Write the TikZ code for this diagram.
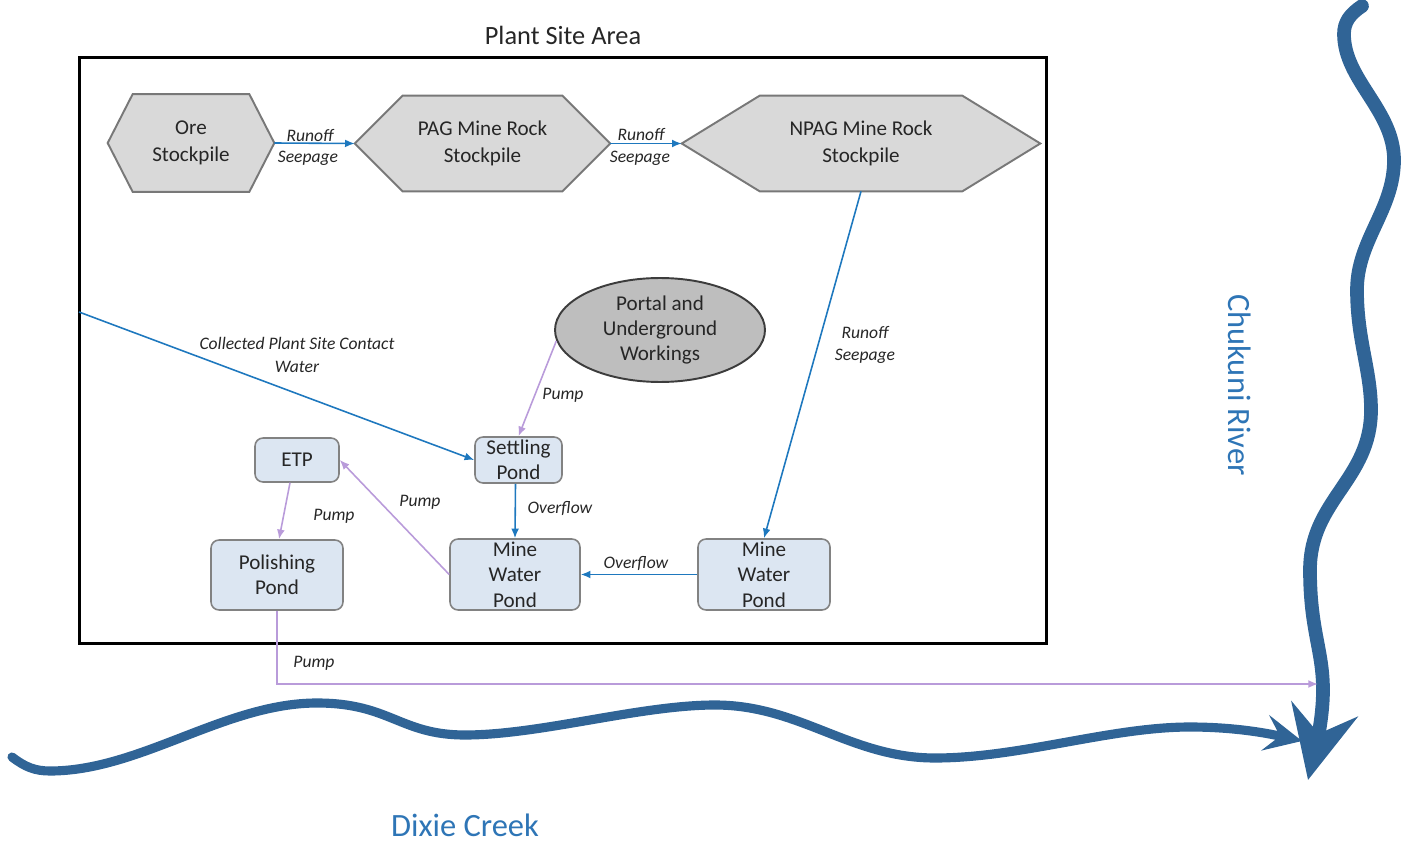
\documentclass[tikz,border=0pt]{standalone}
\usepackage{fontspec}
\setmainfont{Carlito}
\usetikzlibrary{arrows.meta,shapes.geometric,calc,backgrounds}
\definecolor{txt}{RGB}{38,38,38}
\definecolor{hexfill}{RGB}{217,217,217}
\definecolor{hexdraw}{RGB}{120,120,120}
\definecolor{ellfill}{RGB}{190,190,190}
\definecolor{elldraw}{RGB}{60,60,60}
\definecolor{pondfill}{RGB}{220,230,242}
\definecolor{ponddraw}{RGB}{130,130,130}
\definecolor{flowblue}{RGB}{30,120,190}
\definecolor{pumppurple}{RGB}{185,155,218}
\definecolor{riverblue}{RGB}{48,100,150}
\definecolor{rivertext}{RGB}{46,117,182}
\newcommand{\hexpath}[2]{%
  \path[hexshape] (#1.west) -- ($(#1.north west)+(#2,0)$) -- ($(#1.north east)+(-#2,0)$)
    -- (#1.east) -- ($(#1.south east)+(-#2,0)$) -- ($(#1.south west)+(#2,0)$) -- cycle;}
\begin{document}
\begin{tikzpicture}[x=0.02cm,y=-0.02cm,
  hex/.style={inner sep=0pt, align=center, text=txt, font=\fontsize{12}{15.5}\selectfont},
  hexshape/.style={fill=hexfill, draw=hexdraw, line width=1.1pt},
  pond/.style={draw=ponddraw, fill=pondfill, rounded corners=0.16cm, line width=0.9pt, inner sep=0pt},
  pondtext/.style={align=center, text=txt, font=\fontsize{12}{14.5}\selectfont},
  lab/.style={align=center, text=txt, font=\fontsize{10}{13}\selectfont\itshape, inner sep=0pt},
  bflow/.style={draw=flowblue, line width=0.9pt, -{Latex[length=5.5pt,width=4.5pt]}},
  pflow/.style={draw=pumppurple, line width=0.9pt, -{Latex[length=5.5pt,width=4.5pt]}},
  river/.style={draw=riverblue, line cap=round},
  rivlab/.style={text=rivertext, font=\fontsize{18.5}{22}\selectfont, inner sep=0pt}
]
\useasboundingbox (0,0) rectangle (1416,844);

% title and frame
\node[font=\fontsize{15}{18}\selectfont, text=txt] (title) at (563,35) {Plant Site Area};
\node[draw=black, line width=1.7pt, minimum width=19.36cm, minimum height=11.74cm, inner sep=0pt] (frame) at (563,350.5) {};

% stockpiles
\node[hex, minimum width=3.32cm, minimum height=1.94cm] (ore) at (191,143) {Ore\\Stockpile};
\node[hex, minimum width=5.1cm, minimum height=1.9cm] (pag) at (482.5,143.5) {PAG Mine Rock\\Stockpile};
\node[hex, minimum width=7.16cm, minimum height=1.9cm] (npag) at (861,143.5) {NPAG Mine Rock\\Stockpile};
\begin{scope}[on background layer]
  \hexpath{ore}{25}
  \hexpath{pag}{48}
  \hexpath{npag}{78}
\end{scope}

% portal
\node[ellipse, draw=elldraw, fill=ellfill, line width=1.1pt, minimum width=4.2cm, minimum height=2.08cm,
      inner sep=0pt, align=center, text=txt, font=\fontsize{12}{14.5}\selectfont] (portal) at (660,330)
      {Portal and\\Underground\\Workings};

% ponds
\node[pond, minimum width=1.74cm, minimum height=0.92cm, label={[pondtext]center:Settling\\Pond}] (settle) at (518.5,460) {};
\node[pond, minimum width=1.68cm, minimum height=0.88cm, label={[pondtext]center:ETP}] (etp) at (297,460) {};
\node[pond, minimum width=2.64cm, minimum height=1.4cm, label={[pondtext]center:Polishing\\Pond}] (pol) at (277,575) {};
\node[pond, minimum width=2.6cm, minimum height=1.42cm, label={[pondtext]center:Mine\\Water\\Pond}] (mwpa) at (515,574.5) {};
\node[pond, minimum width=2.64cm, minimum height=1.42cm, label={[pondtext]center:Mine\\Water\\Pond}] (mwpb) at (764,574.5) {};

% connectors
\draw[bflow] (ore.east) -- (pag.west);
\draw[bflow] (pag.east) -- (npag.west);
\node[lab] (l1a) at (310,135) {Runoff};
\node[lab] (l1b) at (308,158) {Seepage};
\node[lab] (l2a) at (641,134) {Runoff};
\node[lab] (l2b) at (640,158) {Seepage};

\coordinate (cwin) at (79,312);
\draw[bflow] (cwin) -- (settle.west);
\node[lab] (lcw) at (297,355) {Collected Plant Site Contact\\Water};

\draw[pflow] (portal.186) -- (settle.north);
\node[lab] (lpump1) at (563,395) {Pump};

\draw[bflow] (npag.south) -- (mwpb.north);
\node[lab] (lrs) at (865,345) {Runoff\\Seepage};

\draw[bflow] ($(settle.south)+(-3,0)$) -- (mwpa.north);
\node[lab] (lov1) at (560,508) {Overflow};

\draw[bflow] (mwpb.west) -- (mwpa.east);
\node[lab] (lov2) at (636,563) {Overflow};

\draw[pflow] (mwpa.west) -- (etp.east);
\node[lab] (lpump2) at (420,502) {Pump};

\draw[pflow] ($(etp.south)+(-7,0)$) -- ($(pol.north)+(2,0)$);
\node[lab] (lpump3) at (334,516) {Pump};

% rivers
\draw[river, line width=7.8pt, -{Stealth[length=1.45cm,width=1.35cm,inset=0.5cm]}]
  (1362,6) .. controls (1350,14) and (1344,22) .. (1344,34)
  .. controls (1344,80) and (1394,110) .. (1394,160)
  .. controls (1394,210) and (1357,240) .. (1357,290)
  .. controls (1357,340) and (1371,370) .. (1371,410)
  .. controls (1371,480) and (1310,500) .. (1310,570)
  .. controls (1310,630) and (1323,650) .. (1323,690)
  .. controls (1323,720) and (1315,750) .. (1308,780);
\draw[river, line width=5.2pt, -{Stealth[length=0.75cm,width=0.72cm,inset=0.3cm]}]
  (12,757) .. controls (25,767) and (35,771) .. (50,771)
  .. controls (140,771) and (225,703) .. (317,703)
  .. controls (390,703) and (400,735) .. (465,735)
  .. controls (540,735) and (640,705) .. (715,705)
  .. controls (800,705) and (850,758) .. (935,758)
  .. controls (1020,758) and (1110,727) .. (1190,727)
  .. controls (1240,727) and (1275,735) .. (1302,741);

\coordinate (rivin) at (1318,684);
\draw[pflow] (pol.south) |- (rivin);
\node[lab] (lpump4) at (314,663) {Pump};

\node[rivlab, rotate=-90] (chuk) at (1240,385) {Chukuni River};
\node[rivlab] (dixie) at (465,825) {Dixie Creek};
\end{tikzpicture}
\end{document}
